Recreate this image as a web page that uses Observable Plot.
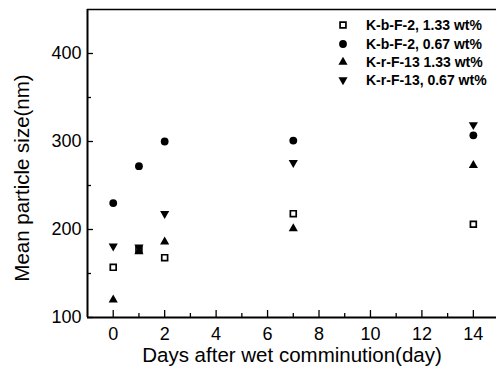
<!DOCTYPE html>
<html><head><meta charset="utf-8">
<script src="https://cdn.jsdelivr.net/npm/d3@7"></script>
<script src="https://cdn.jsdelivr.net/npm/@observablehq/plot@0.6"></script>
<style>
body{margin:0;background:#fff;}
#chart{position:relative;width:496px;height:374px;font-family:"Liberation Sans",Arial,sans-serif;}
#legend{position:absolute;left:334px;top:16px;font-weight:bold;font-size:14px;color:#000;}
#legend .row{display:flex;align-items:center;height:18.4px;}
#legend svg{width:18px;height:18px;margin-right:14px;}
</style>
</head><body><div id="chart"><div id="legend"></div></div>
<script>
const days = [0, 1, 2, 7, 14];
const seriesNames = ["K-b-F-2, 1.33 wt%", "K-b-F-2, 0.67 wt%", "K-r-F-13 1.33 wt%", "K-r-F-13, 0.67 wt%"];
const kbF2_133 = [157, 177, 168, 218, 206];
const kbF2_067 = [230, 272, 300, 301, 307];
const krF13_133 = [120, 175, 186, 201, 273];
const krF13_067 = [181, 180, 218, 276, 319];
const xMajorTicks = [0, 2, 4, 6, 8, 10, 12, 14];
const xMinorTicks = [1, 3, 5, 7, 9, 11, 13];
const yMajorTicks = [100, 200, 300, 400];
const yMinorTicks = [150, 250, 350];
const xDomain = [-1, 14.9];
const yDomain = [100, 450];
const xTitle = "Days after wet comminution(day)";
const yTitle = "Mean particle size(nm)";

const seriesValues = [kbF2_133, kbF2_067, krF13_133, krF13_067];
const table = seriesValues.flatMap((vals, s) => vals.map((v, i) => ({day: days[i], size: v, series: seriesNames[s]})));
const styles = [
  {symbol: "square", fill: "white", stroke: "black", strokeWidth: 1.7, r: 3.3, rotate: 0},
  {symbol: "circle", fill: "black", stroke: null, strokeWidth: 0, r: 3.9, rotate: 0},
  {symbol: "triangle", fill: "black", stroke: null, strokeWidth: 0, r: 3.4, rotate: 0},
  {symbol: "triangle", fill: "black", stroke: null, strokeWidth: 0, r: 3.4, rotate: 180}
];

const font = "Liberation Sans, Arial, sans-serif";
const plot = Plot.plot({
  width: 496, height: 374,
  marginLeft: 87, marginRight: 0, marginTop: 9, marginBottom: 57,
  style: {fontFamily: font, background: "white", color: "black"},
  x: {domain: xDomain},
  y: {domain: yDomain},
  marks: [
    Plot.axisX(xMajorTicks, {tickSize: -7, text: null, label: null, strokeWidth: 1.3}),
    Plot.axisX(xMinorTicks, {tickSize: -4, text: null, label: null, strokeWidth: 1.3}),
    Plot.axisX(xMajorTicks, {tickSize: 0, tickPadding: 10, fontSize: 18, label: null}),
    Plot.axisY(yMajorTicks, {tickSize: -6, text: null, label: null, strokeWidth: 1.3}),
    Plot.axisY(yMinorTicks, {tickSize: -4, text: null, label: null, strokeWidth: 1.3}),
    Plot.axisY(yMajorTicks, {tickSize: 0, tickPadding: 6, fontSize: 18, label: null}),
    Plot.ruleX([xDomain[0]], {strokeWidth: 2}),
    Plot.ruleY([yDomain[0]], {strokeWidth: 2}),
    Plot.ruleY([yDomain[1]], {strokeWidth: 1.5}),
    ...seriesNames.map((name, s) => Plot.dot(table.filter(d => d.series === name), {
      x: "day", y: "size", ...styles[s]
    })),
    Plot.text([xTitle], {frameAnchor: "bottom", dy: 44.5, fontSize: 20.5, text: d => d}),
    Plot.text([yTitle], {frameAnchor: "left", textAnchor: "middle", dx: -65.5, dy: 14.5, rotate: -90, fontSize: 20.5, text: d => d})
  ]
});
document.getElementById("chart").prepend(plot);

// legend
const legend = d3.select("#legend");
seriesNames.forEach((name, s) => {
  const st = styles[s];
  const row = legend.append("div").attr("class", "row");
  const svg = row.append("svg").attr("viewBox", "-9 -9 18 18");
  const sym = st.symbol === "square" ? d3.symbolSquare : st.symbol === "circle" ? d3.symbolCircle : d3.symbolTriangle;
  svg.append("path")
    .attr("d", d3.symbol(sym, st.r * st.r * Math.PI)())
    .attr("fill", st.fill)
    .attr("stroke", st.stroke || "none")
    .attr("stroke-width", st.strokeWidth)
    .attr("transform", `rotate(${st.rotate})`);
  row.append("span").text(name);
});
</script>
</body></html>
